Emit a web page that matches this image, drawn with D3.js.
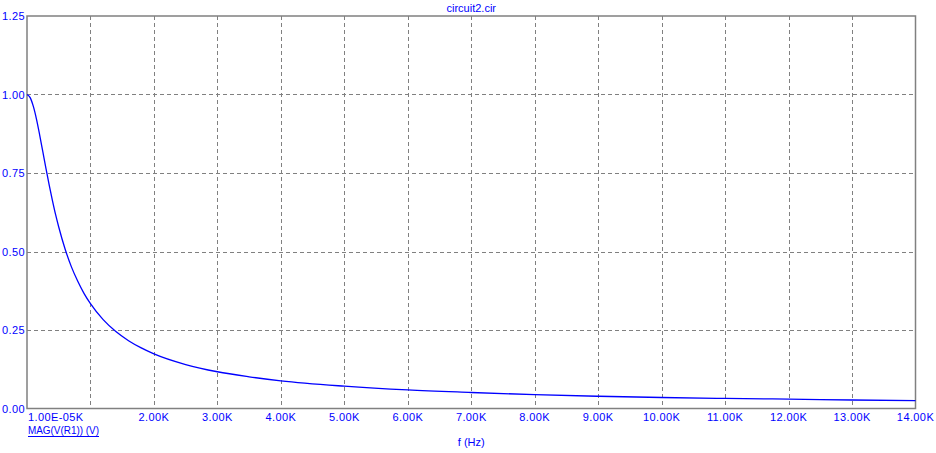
<!DOCTYPE html>
<html>
<head>
<meta charset="utf-8">
<script src="https://cdn.jsdelivr.net/npm/d3@7"></script>
<style>
  html, body { margin: 0; padding: 0; background: #fff; }
  svg { display: block; }
  text { font-family: "Liberation Sans", Arial, sans-serif; font-size: 11px; fill: #0000ff; }
  text.num { letter-spacing: 0.4px; }
</style>
</head>
<body>
<svg id="chart" width="936" height="453"></svg>
<script>
// Data
const freqs = [0, 50, 100, 150, 200, 250, 300, 350, 400, 450, 500, 600, 700, 800, 900, 1000,
  1200, 1400, 1600, 1800, 2000, 2500, 3000, 3500, 4000, 5000, 6000, 7000, 8000, 9000,
  10000, 11000, 12000, 13000, 14000];
const magV = [1.000, 0.990, 0.962, 0.921, 0.871, 0.817, 0.763, 0.711, 0.663, 0.618, 0.578,
  0.508, 0.451, 0.405, 0.366, 0.334, 0.283, 0.245, 0.216, 0.193, 0.174, 0.140, 0.117,
  0.101, 0.088, 0.071, 0.059, 0.051, 0.044, 0.039, 0.035, 0.032, 0.030, 0.027, 0.025];
const xTicks = [0, 1000, 2000, 3000, 4000, 5000, 6000, 7000, 8000, 9000, 10000, 11000, 12000, 13000, 14000];
const xTickLabels = ["1.00E-05K", "", "2.00K", "3.00K", "4.00K", "5.00K", "6.00K", "7.00K", "8.00K",
  "9.00K", "10.00K", "11.00K", "12.00K", "13.00K", "14.00K"];
const yTicks = [0, 0.25, 0.5, 0.75, 1.0, 1.25];
const yTickLabels = ["0.00", "0.25", "0.50", "0.75", "1.00", "1.25"];
const title = "circuit2.cir";
const xTitle = "f (Hz)";
const seriesName = "MAG(V(R1)) (V)";

const svg = d3.select("#chart");
const L = 27, R = 915.5, T = 16, B = 408.5;
const x = d3.scaleLinear().domain([0, 14000]).range([L, R]);
const y = d3.scaleLinear().domain([0, 1.25]).range([B, T]);

// grid
const grid = svg.append("g");
grid.selectAll("line.vx").data(xTicks.slice(1, -1)).join("line")
  .attr("x1", d => Math.round(x(d)) + 0.5).attr("x2", d => Math.round(x(d)) + 0.5)
  .attr("y1", T).attr("y2", B)
  .attr("stroke", "#808080").attr("stroke-dasharray", "4,3");
grid.selectAll("line.hy").data(yTicks.slice(1, -1)).join("line")
  .attr("y1", d => Math.round(y(d)) + 0.5).attr("y2", d => Math.round(y(d)) + 0.5)
  .attr("x1", L).attr("x2", R)
  .attr("stroke", "#808080").attr("stroke-dasharray", "4,3");

// frame
svg.append("rect").attr("x", L).attr("y", T).attr("width", R - L).attr("height", B - T)
  .attr("fill", "none").attr("stroke", "#808080").attr("stroke-width", 1.5);

// curve
const line = d3.line().x((d, i) => x(freqs[i])).y(d => y(d)).curve(d3.curveMonotoneX);
svg.append("path").datum(magV).attr("d", line)
  .attr("fill", "none").attr("stroke", "#0000ff").attr("stroke-width", 1.3);

// y labels
svg.selectAll("text.yl").data(yTicks).join("text").attr("class", "num")
  .attr("x", 25).attr("y", d => y(d) + 4)
  .attr("text-anchor", "end").text((d, i) => yTickLabels[i]);

// x labels
svg.selectAll("text.xl").data(xTicks).join("text").attr("class", "num")
  .attr("x", (d, i) => i === 0 ? L + 1 : x(d))
  .attr("y", 421)
  .attr("text-anchor", (d, i) => i === 0 ? "start" : "middle")
  .text((d, i) => xTickLabels[i]);

// title
svg.append("text").attr("x", (L + R) / 2).attr("y", 12).attr("text-anchor", "middle").text(title);
// x axis title
svg.append("text").attr("x", (L + R) / 2).attr("y", 446).attr("text-anchor", "middle").text(xTitle);
// legend
const lg = svg.append("text").attr("x", L + 1).attr("y", 434)
  .attr("textLength", 71).attr("lengthAdjust", "spacingAndGlyphs").text(seriesName);
const bb = lg.node().getBBox();
svg.append("line").attr("x1", bb.x).attr("x2", bb.x + bb.width)
  .attr("y1", 436.5).attr("y2", 436.5).attr("stroke", "#0000ff").attr("stroke-width", 1);
</script>
</body>
</html>
